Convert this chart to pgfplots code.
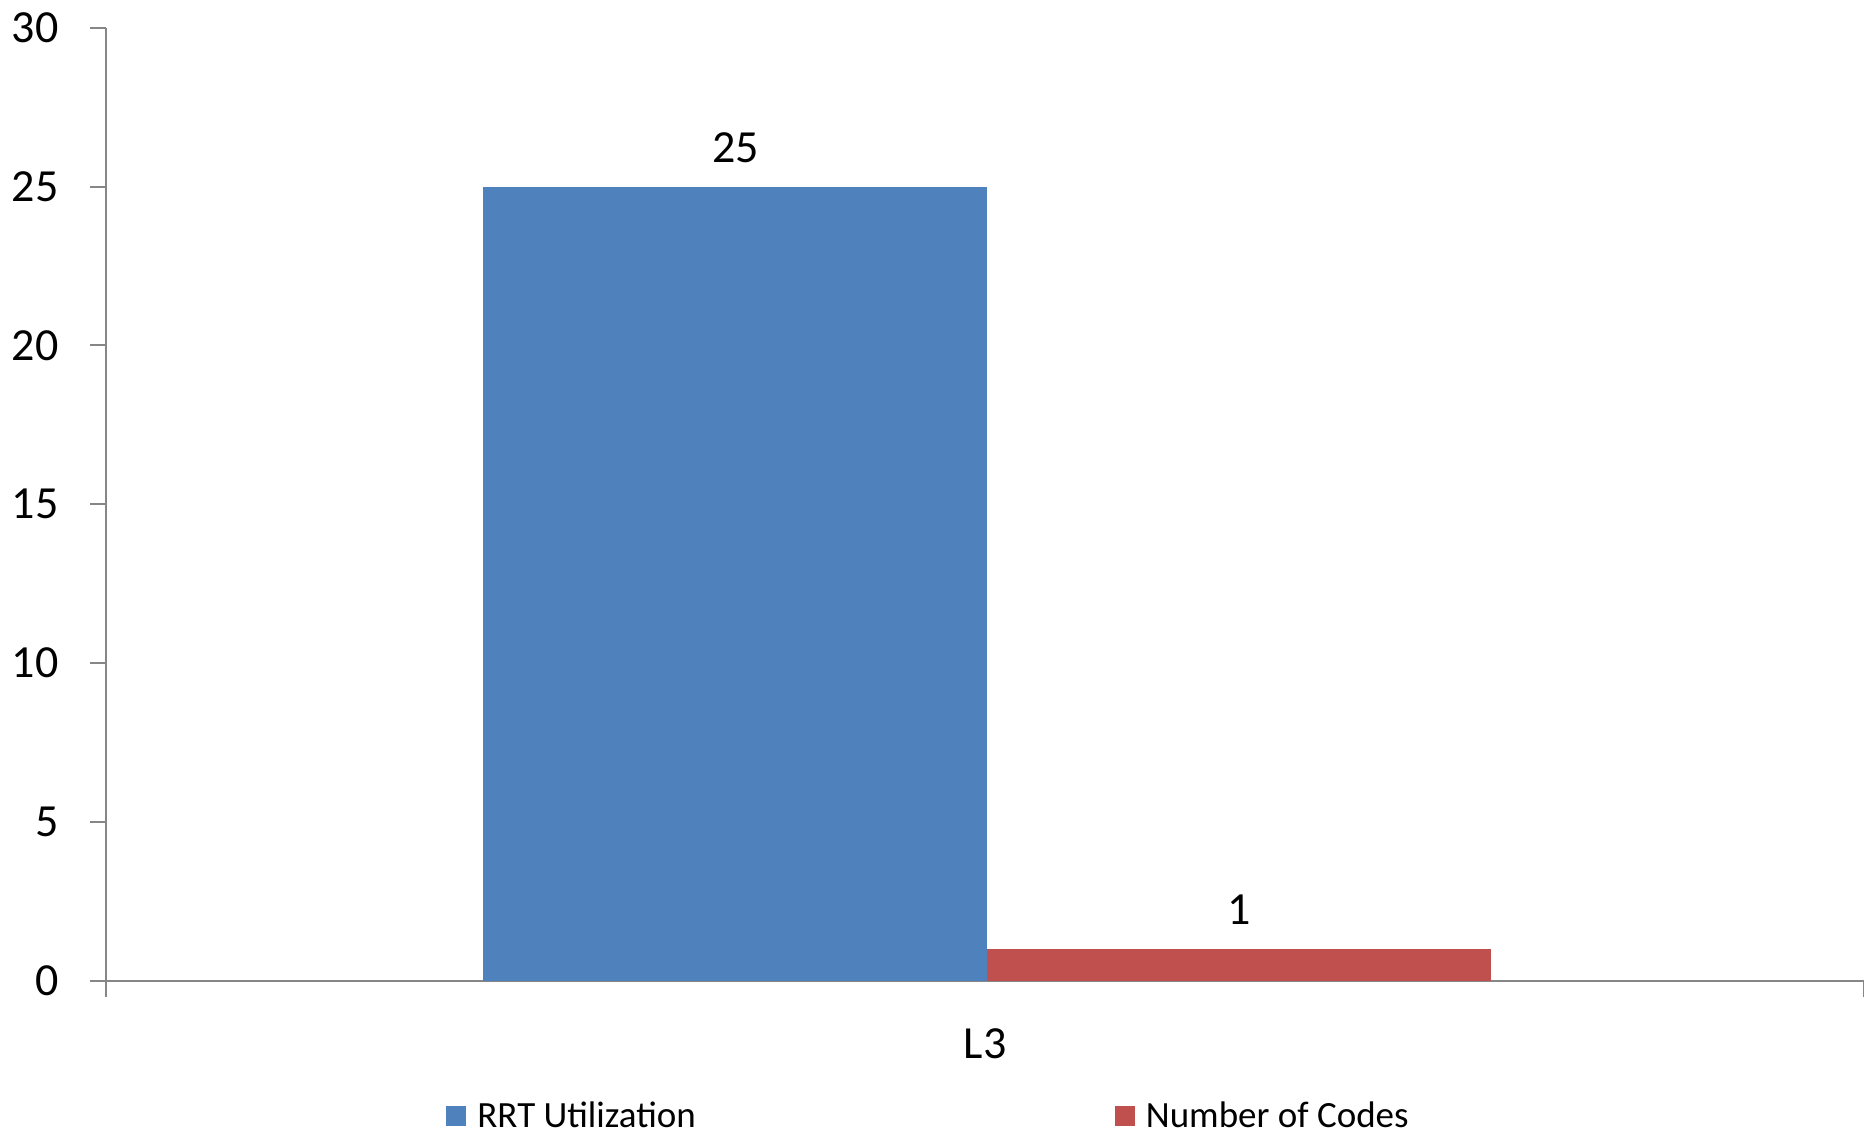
\documentclass[border=0pt]{standalone}
\usepackage{fontspec}
\setmainfont{Carlito}
\usepackage{pgfplots}
\pgfplotsset{compat=1.18}
\definecolor{barblue}{HTML}{4F81BD}
\definecolor{barred}{HTML}{C0504D}
\definecolor{axgray}{RGB}{134,134,134}
\begin{document}
\begin{tikzpicture}
\useasboundingbox (0,0) rectangle (932pt,567pt);
\begin{axis}[
  at={(53pt,76.65pt)}, anchor=south west,
  scale only axis, width=879pt, height=476.5pt,
  xmin=-1, xmax=1, ymin=0, ymax=30,
  axis x line*=bottom, axis y line*=left,
  axis line style={draw=axgray, line width=1pt},
  every tick/.style={draw=axgray, line width=1pt},
  tick align=outside, major tick length=8pt,
  ytick={0,5,10,15,20,25,30},
  xtick={0}, xticklabels={L3},
  xtick style={draw=none},
  extra x ticks={-1,1}, extra x tick labels={},
  extra x tick style={xtick style={draw=axgray, line width=1pt}},
  tick label style={font=\fontsize{23}{27}\selectfont},
  /pgf/number format/assume math mode=true,
  yticklabel style={inner sep=0pt, anchor=east, xshift=-15.5pt},
  xticklabel style={inner sep=0pt, anchor=north, yshift=-16pt},
  nodes near coords,
  every node near coord/.append style={font=\fontsize{23}{27}\selectfont, text=black, yshift=8.5pt},
  legend columns=2,
  legend style={draw=none, at={(0.1934,-0.1425)}, anchor=west, inner sep=0pt,
    font=\fontsize{18.5}{22}\selectfont,
    nodes={inner sep=0pt},
    /tikz/every even column/.append style={column sep=209.5pt},
    /tikz/every odd column/.append style={column sep=5.5pt}},
]
\addplot[ybar, fill=barblue, draw=none, bar width=0.5734, bar shift=0pt,
  legend image code/.code={\fill[barblue] (0pt,-5pt) rectangle (10pt,5pt);}]
  coordinates {(-0.2840,25)};
\addlegendentry{RRT Utilization}
\addplot[ybar, fill=barred, draw=none, bar width=0.5734, bar shift=0pt,
  legend image code/.code={\fill[barred] (0pt,-5pt) rectangle (10pt,5pt);}]
  coordinates {(0.2894,1)};
\addlegendentry{Number of Codes}
\end{axis}
\end{tikzpicture}
\end{document}
